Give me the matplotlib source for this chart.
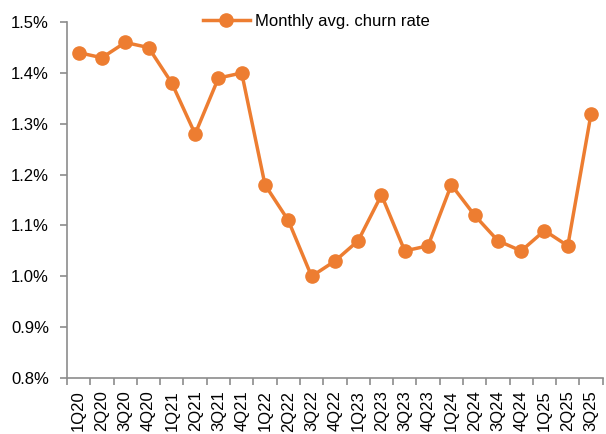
import matplotlib.pyplot as plt
import numpy as np
from matplotlib.ticker import FuncFormatter, FixedLocator

plt.rcParams['font.family'] = ['Liberation Sans', 'DejaVu Sans']

quarters = ['1Q20', '2Q20', '3Q20', '4Q20', '1Q21', '2Q21', '3Q21', '4Q21',
            '1Q22', '2Q22', '3Q22', '4Q22', '1Q23', '2Q23', '3Q23', '4Q23',
            '1Q24', '2Q24', '3Q24', '4Q24', '1Q25', '2Q25', '3Q25']
churn = [1.44, 1.43, 1.46, 1.45, 1.38, 1.28, 1.39, 1.40,
         1.18, 1.11, 1.00, 1.03, 1.07, 1.16, 1.05, 1.06,
         1.18, 1.12, 1.07, 1.05, 1.09, 1.06, 1.32]
y_ticks = [0.8, 0.9, 1.0, 1.1, 1.2, 1.3, 1.4, 1.5]

orange = '#ED7D31'
grey = '#8C8C8C'

fig = plt.figure(figsize=(6.06, 4.34), dpi=100)
ax = fig.add_axes([0.1106, 0.129, 0.884, 0.820])

x = np.arange(len(quarters))
ax.plot(x, churn, color=orange, lw=2.5, marker='o', markersize=9.5,
        label='Monthly avg. churn rate')

ax.set_xlim(-0.5, len(quarters) - 0.5)
ax.set_ylim(0.8, 1.5)
ax.set_yticks(y_ticks)
ax.yaxis.set_major_formatter(FuncFormatter(lambda v, p: f'{v:.1f}%'))

ax.set_xticks(x)
ax.set_xticklabels(quarters, rotation=90, fontsize=12)
ax.tick_params(axis='x', which='major', length=0, pad=9)
# ticks sit between the categories
ax.xaxis.set_minor_locator(FixedLocator(np.arange(len(quarters) + 1) - 0.5))
ax.tick_params(axis='x', which='minor', length=5, color=grey, width=1.2)
ax.tick_params(axis='y', labelsize=12, length=5, color=grey, width=1.2, pad=8)

for s in ['top', 'right']:
    ax.spines[s].set_visible(False)
for s in ['left', 'bottom']:
    ax.spines[s].set_color(grey)
    ax.spines[s].set_linewidth(1.2)

ax.legend(loc='upper center', bbox_to_anchor=(0.465, 1.065), frameon=False,
          fontsize=12, handlelength=2.8, handletextpad=0.3)

fig.savefig('out.png', dpi=100)
